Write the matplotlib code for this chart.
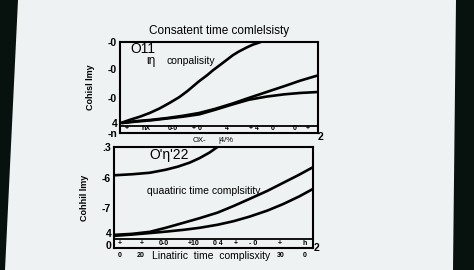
"""
Two-panel complexity chart (photographed slide look)
"""

import matplotlib
matplotlib.use("Agg")
from matplotlib import pyplot as plt
from matplotlib.patches import Polygon

plt.rcParams["font.family"] = ["Liberation Sans", "DejaVu Sans"]

# ---- data ----
# top panel
top_a_x = [0.08, 0.5, 1.0, 1.5, 2.0, 2.5, 3.0, 3.4, 3.7, 4.0, 4.4, 4.7,
           5.05, 5.4, 5.7, 6.0, 6.4, 6.7, 7.07, 7.8]
top_a_y = [1.13, 1.45, 1.79, 2.2, 2.7, 3.3, 3.95, 4.6, 5.15, 5.7, 6.35, 6.9,
           7.47, 8.05, 8.55, 8.95, 9.4, 9.7, 9.97, 10.6]
top_b_x = [0.1, 0.8, 1.6, 2.4, 3.2, 4.0, 4.8, 5.7, 6.5, 7.4, 8.3, 9.1, 9.95]
top_b_y = [1.1, 1.3, 1.45, 1.65, 1.9, 2.2, 2.65, 3.25, 3.85, 4.5, 5.15, 5.75,
           6.3]
top_c_x = [0.1, 0.8, 1.6, 2.4, 3.2, 4.0, 4.8, 5.7, 6.5, 7.4, 8.3, 9.1, 9.95]
top_c_y = [1.1, 1.25, 1.4, 1.6, 1.8, 2.05, 2.55, 3.15, 3.65, 4.0, 4.25, 4.4,
           4.5]

# bottom panel
bot_d_x = [0.0, 0.9, 1.8, 2.6, 3.2, 3.8, 4.3, 4.8, 5.2, 5.8]
bot_d_y = [7.2, 7.3, 7.45, 7.75, 8.05, 8.45, 8.9, 9.45, 10.0, 10.9]
bot_e_x = [0.0, 0.9, 1.8, 2.6, 3.5, 4.3, 5.2, 6.0, 6.8, 7.7, 8.5, 9.3, 10.0]
bot_e_y = [1.3, 1.4, 1.6, 2.0, 2.5, 2.95, 3.5, 4.15, 4.85, 5.65, 6.45, 7.25,
           8.0]
bot_f_x = [0.0, 0.9, 1.8, 2.6, 3.5, 4.3, 5.2, 6.0, 6.8, 7.7, 8.5, 9.3, 10.0]
bot_f_y = [1.2, 1.33, 1.48, 1.62, 1.8, 2.0, 2.3, 2.65, 3.1, 3.7, 4.35, 5.1,
           5.85]

top_yticks = [10.0, 7.0, 3.85, 1.1, 0.0]
top_ylabels = ["-0", "-0", "-0", "4", "-n"]
top_xticks = [0.35, 1.3, 2.65, 3.9, 5.4, 6.75, 7.7, 8.8, 9.5]
top_xlabels = ["+", "hX", "0-0", "+ 0", "4", "+ 4", "0", "0", "+"]

bot_yticks = [10.0, 6.95, 3.95, 1.5, 0.3]
bot_ylabels = [".3", "-6", "-7", "4", "0"]
bot_xticks = [0.3, 1.4, 2.5, 4.0, 5.2, 6.1, 7.0, 8.35, 9.6]
bot_xlabels = ["+", "+", "0-0", "+10", "0 4", "+", "- 0", "+", "h"]
bot_xticks2 = [0.3, 1.35, 8.4, 9.6]
bot_xlabels2 = ["0", "20", "30", "0"]

bg = "#eef2f3"
fig = plt.figure(figsize=(4.74, 2.70), dpi=100, facecolor=bg)

# dark edges of the photographed screen
fig.patches.append(Polygon([(0, 0), (5 / 474, 0), (18 / 474, 1), (0, 1)],
                           closed=True, transform=fig.transFigure,
                           facecolor="#07110d", edgecolor="none"))
fig.patches.append(Polygon([(453 / 474, 0), (1, 0), (1, 1), (456 / 474, 1)],
                           closed=True, transform=fig.transFigure,
                           facecolor="#07110d", edgecolor="none"))

lw = 1.9


def style_axes(ax, yt, yl, xt, xl, strip):
    ax.set_facecolor("none")
    ax.set_xlim(0, 10)
    ax.set_ylim(0, 10)
    for s in ax.spines.values():
        s.set_linewidth(1.5)
    ax.axhline(strip, color="black", lw=1.3)
    ax.set_yticks(yt)
    ax.set_yticklabels(yl, fontsize=7.5, fontweight="bold")
    ax.set_xticks(xt)
    ax.set_xticklabels(xl, fontsize=5, fontweight="bold")
    ax.tick_params(axis="both", length=0)
    ax.tick_params(axis="y", pad=2)
    ax.tick_params(axis="x", pad=-6)


# top panel
ax1 = fig.add_axes([120 / 474, 1 - 133 / 270, 198 / 474, 91 / 270])
style_axes(ax1, top_yticks, top_ylabels, top_xticks, top_xlabels, 0.75)
ax1.plot(top_a_x, top_a_y, color="black", lw=lw, solid_capstyle="round")
ax1.plot(top_b_x, top_b_y, color="black", lw=lw, solid_capstyle="round")
ax1.plot(top_c_x, top_c_y, color="black", lw=lw, solid_capstyle="round")
ax1.text(0.5, 10.0, "O11", fontsize=10, va="top")
ax1.text(1.35, 7.9, "ιη", fontsize=8.5, va="center")
ax1.text(2.35, 7.9, "conpalisity", fontsize=7.5, va="center")
ax1.set_title("Consatent time comlelsisty", fontsize=8.5, pad=6)
ax1.set_ylabel("Cohisl lmy", fontsize=6.5, fontweight="bold", labelpad=9)
fig.text(193 / 474, 1 - 141 / 270, "OX-", fontsize=5.5, va="center")
fig.text(218 / 474, 1 - 141 / 270, "|4/%", fontsize=5.5, va="center")
fig.text(318 / 474, 1 - 137 / 270, "2", fontsize=7.5, fontweight="bold",
         va="center")

# bottom panel
ax2 = fig.add_axes([114 / 474, 1 - 248 / 270, 199 / 474, 101 / 270])
style_axes(ax2, bot_yticks, bot_ylabels, bot_xticks, bot_xlabels, 0.9)
ax2.plot(bot_d_x, bot_d_y, color="black", lw=lw, solid_capstyle="round")
ax2.plot(bot_e_x, bot_e_y, color="black", lw=lw, solid_capstyle="round")
ax2.plot(bot_f_x, bot_f_y, color="black", lw=lw, solid_capstyle="round")
ax2.text(1.8, 9.2, "O'η'22", fontsize=10, va="center")
ax2.text(1.65, 5.6, "quaatiric time complsitity", fontsize=7.5, va="center")
for xv, lab in zip(bot_xticks2, bot_xlabels2):
    ax2.text(xv, -0.04, lab, fontsize=5, fontweight="bold", ha="center",
             va="top", transform=ax2.get_xaxis_transform())
ax2.set_ylabel("Cohhil lmy", fontsize=6.5, fontweight="bold", labelpad=9)
fig.text(211 / 474, 1 - 256 / 270, "Linatiric  time  complisxity",
         fontsize=7.5, ha="center", va="center")
fig.text(314 / 474, 1 - 248 / 270, "2", fontsize=7.5, fontweight="bold",
         va="center")

fig.savefig("out.png", dpi=100, facecolor=bg)
plt.close()
